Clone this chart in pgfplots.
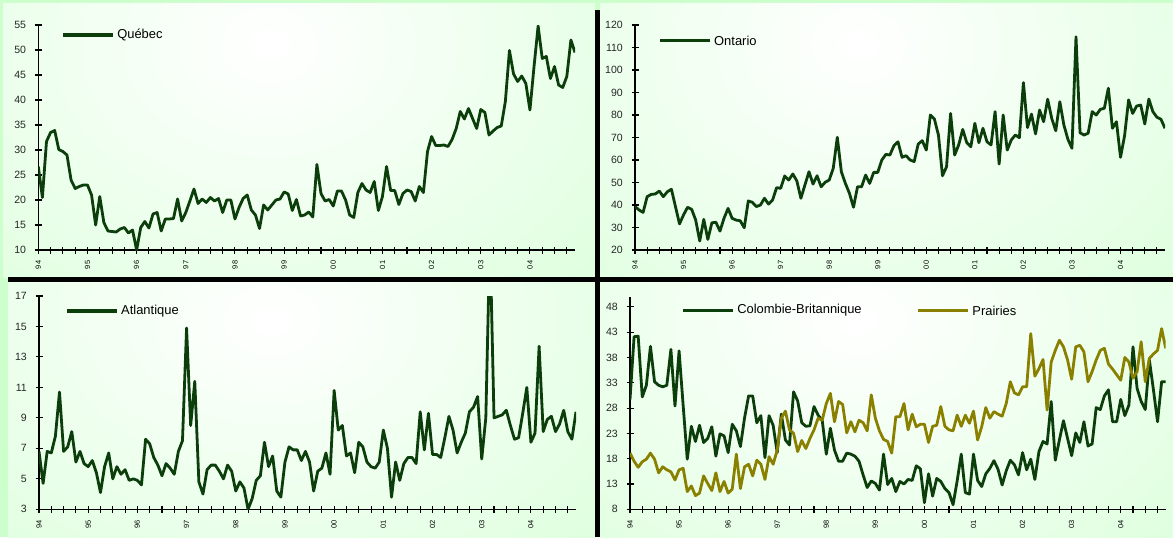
\documentclass[border=0pt]{standalone}
\usepackage{pgfplots}
\pgfplotsset{compat=1.18}
\usepackage{fontspec}
\setmainfont{Liberation Sans}
\newlength{\px}\setlength{\px}{0.75pt}
\definecolor{bggreen}{RGB}{204,255,204}
\definecolor{dgreen}{RGB}{12,62,12}
\definecolor{olive}{RGB}{138,128,0}

\pgfplotsset{
  panel/.style={
    scale only axis,
    axis lines=left,
    axis line style={-, black, line width=0.8pt},
    tick align=center,
    major tick length=7\px,
    minor tick length=7\px,
    tick style={black, line width=0.8pt},
    xmin=0, xmax=131,
    xtick={0,12,...,120},
    minor xtick={3,6,...,129},
    xticklabels={94,95,96,97,98,99,00,01,02,03,04},
    xticklabel style={yshift=-2.5\px, rotate=90, anchor=east, font=\fontsize{5.6}{6}\selectfont},
    yticklabel style={xshift=-4\px, font=\fontsize{7.9}{9}\selectfont, text=black!85},
    /pgf/number format/assume math mode=true,
    clip mode=individual,
  },
  series/.style={#1, line width=2.1pt, line join=round},
}
% legend key: a 50px bar, then the name
\newcommand{\key}[3]{%
  \fill[#1] (axis description cs:#2) ++(0pt,-1.25pt) rectangle ++(50\px,2.5pt);
  \node[anchor=west, inner sep=0pt, xshift=54\px, font=\fontsize{9.7}{11}\selectfont]
    at (axis description cs:#2) {#3};}

\begin{document}
\begin{tikzpicture}[x=0.75pt, y=0.75pt]
% background and panel shading
\fill[bggreen] (0,0) rectangle (1173,537);
\begin{scope}
  \clip (3,260) rectangle (595,533);
  \shade[inner color=white, outer color=bggreen] (269,492) ellipse (710 and 546);
\end{scope}
\begin{scope}
  \clip (600,260) rectangle (1173,533);
  \shade[inner color=white, outer color=bggreen] (858,492) ellipse (690 and 546);
\end{scope}
\begin{scope}
  \clip (8,0) rectangle (595,255);
  \shade[inner color=white, outer color=bggreen] (272,217) ellipse (705 and 510);
\end{scope}
\begin{scope}
  \clip (600,0) rectangle (1173,255);
  \shade[inner color=white, outer color=bggreen] (858,217) ellipse (690 and 510);
\end{scope}
\fill[black] (594.5,0) rectangle (600,527);
\fill[black] (8,255) rectangle (1173,260);

% Quebec
\begin{axis}[panel, at={(38.3\px,287\px)}, anchor=south west,
  width=536.7\px, height=225\px, ymin=10, ymax=55, ytick={10,15,...,55}]
\addplot[series=dgreen] coordinates {
(0,26.7) (1,20.5) (2,31.7) (3,33.5) (4,33.9) (5,30.1) (6,29.7) (7,29.0) (8,24.0) (9,22.3)
(10,22.7) (11,23.0) (12,23.0) (13,21.0) (14,15.0) (15,20.7) (16,15.5) (17,13.8) (18,13.7) (19,13.6)
(20,14.2) (21,14.5) (22,13.4) (23,14.0) (24,10.0) (25,14.5) (26,15.7) (27,14.4) (28,17.2) (29,17.5)
(30,13.8) (31,16.2) (32,16.2) (33,16.3) (34,20.2) (35,15.8) (36,17.5) (37,19.8) (38,22.2) (39,19.3)
(40,20.2) (41,19.5) (42,20.5) (43,19.8) (44,20.3) (45,17.5) (46,20.0) (47,20.0) (48,16.2) (49,18.5)
(50,20.3) (51,21.0) (52,18.0) (53,17.0) (54,14.3) (55,19.0) (56,18.0) (57,19.0) (58,20.0) (59,20.2)
(60,21.6) (61,21.2) (62,17.9) (63,20.1) (64,16.8) (65,17.0) (66,17.6) (67,16.6) (68,27.1) (69,21.3)
(70,19.8) (71,20.1) (72,18.8) (73,21.8) (74,21.8) (75,20.0) (76,17.0) (77,16.5) (78,21.5) (79,23.3)
(80,22.0) (81,21.5) (82,23.7) (83,17.9) (84,20.7) (85,26.7) (86,21.9) (87,21.9) (88,19.1) (89,21.3)
(90,22.0) (91,21.7) (92,19.8) (93,22.7) (94,21.5) (95,29.7) (96,32.7) (97,30.9) (98,30.9) (99,31.0)
(100,30.7) (101,32.1) (102,34.3) (103,37.7) (104,36.2) (105,38.3) (106,36.3) (107,34.3) (108,38.1) (109,37.5)
(110,33.0) (111,33.8) (112,34.5) (113,34.8) (114,39.7) (115,49.9) (116,45.2) (117,43.7) (118,44.8) (119,43.3)
(120,38.0) (121,46.7) (122,54.8) (123,48.3) (124,48.7) (125,44.3) (126,46.7) (127,43.0) (128,42.5) (129,44.7)
(130,52.0) (131,49.5)};
\key{dgreen}{0.046,0.956}{Québec}
\end{axis}

% Ontario
\begin{axis}[panel, at={(635\px,287\px)}, anchor=south west,
  width=530\px, height=225\px, ymin=20, ymax=120, ytick={20,30,...,120}]
\addplot[series=dgreen] coordinates {
(0,39.3) (1,37.8) (2,36.7) (3,43.7) (4,44.7) (5,44.9) (6,46.2) (7,43.7) (8,45.9) (9,47.0)
(10,39.3) (11,31.6) (12,35.6) (13,39.0) (14,38.1) (15,33.3) (16,24.0) (17,33.6) (18,24.7) (19,32.1)
(20,32.3) (21,28.4) (22,34.1) (23,38.5) (24,34.1) (25,33.3) (26,33.0) (27,29.9) (28,41.8) (29,41.2)
(30,39.3) (31,40.0) (32,43.0) (33,40.4) (34,42.2) (35,47.7) (36,47.4) (37,52.9) (38,51.1) (39,53.8)
(40,50.7) (41,43.0) (42,48.9) (43,54.8) (44,49.3) (45,53.0) (46,48.1) (47,50.1) (48,51.1) (49,56.3)
(50,70.1) (51,54.8) (52,49.6) (53,45.2) (54,39.0) (55,48.1) (56,48.1) (57,53.3) (58,49.6) (59,54.5)
(60,54.5) (61,60.0) (62,62.5) (63,62.2) (64,66.4) (65,68.1) (66,61.2) (67,61.9) (68,60.0) (69,59.3)
(70,67.1) (71,68.6) (72,64.4) (73,80.0) (74,78.2) (75,71.1) (76,53.0) (77,57.0) (78,80.7) (79,62.2)
(80,66.7) (81,73.6) (82,67.7) (83,65.9) (84,76.3) (85,67.7) (86,74.1) (87,68.1) (88,66.7) (89,81.5)
(90,58.2) (91,80.0) (92,64.4) (93,68.9) (94,71.1) (95,69.9) (96,94.4) (97,74.4) (98,80.4) (99,71.6)
(100,82.2) (101,77.0) (102,87.0) (103,78.5) (104,73.0) (105,85.9) (106,75.6) (107,69.2) (108,65.2) (109,114.8)
(110,72.1) (111,71.1) (112,71.9) (113,81.5) (114,80.0) (115,82.5) (116,83.0) (117,91.9) (118,74.1) (119,77.0)
(120,61.2) (121,70.7) (122,86.7) (123,80.7) (124,84.0) (125,84.4) (126,76.0) (127,87.1) (128,81.5) (129,79.0)
(130,78.1) (131,74.1)};
\key{dgreen}{0.047,0.930}{Ontario}
\end{axis}

% Atlantique
\begin{axis}[panel, at={(39\px,27.7\px)}, anchor=south west,
  width=537\px, height=213.3\px, ymin=3, ymax=17, ytick={3,5,...,17}]
\addplot[series=dgreen] coordinates {
(0,6.8) (1,4.7) (2,6.8) (3,6.7) (4,7.8) (5,10.7) (6,6.8) (7,7.1) (8,8.1) (9,6.1)
(10,6.8) (11,6.0) (12,5.8) (13,6.2) (14,5.4) (15,4.1) (16,5.8) (17,6.7) (18,5.0) (19,5.8)
(20,5.3) (21,5.6) (22,4.9) (23,5.0) (24,4.9) (25,4.6) (26,7.6) (27,7.3) (28,6.4) (29,5.9)
(30,5.2) (31,6.0) (32,5.7) (33,5.3) (34,6.8) (35,7.5) (36,14.9) (37,8.5) (38,11.4) (39,4.8)
(40,4.0) (41,5.6) (42,5.9) (43,5.9) (44,5.5) (45,5.0) (46,5.9) (47,5.5) (48,4.2) (49,4.8)
(50,4.4) (51,3.0) (52,3.7) (53,4.9) (54,5.2) (55,7.4) (56,5.8) (57,6.5) (58,4.2) (59,3.8)
(60,6.1) (61,7.1) (62,6.9) (63,6.9) (64,6.2) (65,6.8) (66,6.1) (67,4.2) (68,5.5) (69,5.7)
(70,6.7) (71,5.3) (72,10.8) (73,8.2) (74,8.5) (75,6.5) (76,6.7) (77,5.4) (78,7.4) (79,7.1)
(80,6.1) (81,5.8) (82,5.7) (83,6.1) (84,8.2) (85,7.0) (86,3.8) (87,6.1) (88,4.9) (89,6.0)
(90,6.4) (91,6.4) (92,6.0) (93,9.4) (94,6.9) (95,9.3) (96,6.6) (97,6.6) (98,6.4) (99,7.7)
(100,9.1) (101,8.2) (102,6.7) (103,7.4) (104,8.0) (105,9.4) (106,9.7) (107,10.4) (108,6.3) (109,9.0)
(110,21.0) (111,9.0) (112,9.1) (113,9.2) (114,9.5) (115,8.5) (116,7.6) (117,7.7) (118,9.3) (119,11.0)
(120,7.4) (121,8.0) (122,13.7) (123,8.1) (124,8.9) (125,9.1) (126,8.1) (127,8.6) (128,9.5) (129,8.1)
(130,7.6) (131,9.4)};
\key{dgreen}{0.052,0.930}{Atlantique}
\end{axis}

% Colombie-Britannique and Prairies
\begin{axis}[panel, at={(630\px,27.7\px)}, anchor=south west,
  width=535.7\px, height=212.6\px, ymin=8, ymax=50, ytick={8,13,...,48}]
\addplot[series=dgreen] coordinates {
(0,29.7) (1,42.1) (2,42.2) (3,30.2) (4,32.5) (5,40.2) (6,33.2) (7,32.5) (8,32.2) (9,32.5)
(10,39.6) (11,28.4) (12,39.3) (13,28.5) (14,17.9) (15,24.4) (16,21.4) (17,24.6) (18,21.2) (19,22.0)
(20,24.3) (21,18.5) (22,22.9) (23,22.5) (24,19.2) (25,24.8) (26,23.5) (27,20.4) (28,26.0) (29,30.4)
(30,30.4) (31,25.1) (32,26.5) (33,18.2) (34,26.5) (35,24.6) (36,19.2) (37,26.8) (38,21.7) (39,20.7)
(40,31.2) (41,29.4) (42,25.1) (43,24.4) (44,24.5) (45,28.3) (46,26.6) (47,25.6) (48,18.9) (49,24.0)
(50,19.7) (51,17.5) (52,17.5) (53,19.1) (54,18.9) (55,18.5) (56,17.5) (57,14.8) (58,12.3) (59,13.6)
(60,13.1) (61,11.8) (62,18.9) (63,12.9) (64,14.1) (65,11.5) (66,13.5) (67,13.0) (68,13.9) (69,13.7)
(70,16.6) (71,16.0) (72,9.3) (73,15.0) (74,10.6) (75,14.1) (76,13.5) (77,12.1) (78,11.3) (79,8.9)
(80,13.6) (81,18.9) (82,11.3) (83,11.0) (84,18.9) (85,13.7) (86,12.5) (87,15.0) (88,16.1) (89,17.6)
(90,15.9) (91,12.8) (92,15.6) (93,17.7) (94,16.8) (95,14.8) (96,19.2) (97,15.8) (98,17.9) (99,13.9)
(100,19.4) (101,21.4) (102,20.9) (103,29.3) (104,17.7) (105,21.7) (106,25.5) (107,22.0) (108,18.6) (109,23.1)
(110,21.2) (111,25.3) (112,20.5) (113,20.9) (114,28.1) (115,27.7) (116,30.4) (117,31.6) (118,25.3) (119,25.3)
(120,29.7) (121,26.5) (122,28.6) (123,40.1) (124,31.9) (125,29.3) (126,27.7) (127,37.5) (128,31.6) (129,25.3)
(130,33.2) (131,33.2)};
\addplot[series=olive] coordinates {
(0,19.1) (1,17.5) (2,16.3) (3,17.4) (4,17.9) (5,19.1) (6,17.9) (7,15.2) (8,16.4) (9,15.8)
(10,15.4) (11,13.8) (12,15.8) (13,16.1) (14,11.5) (15,12.6) (16,10.7) (17,11.2) (18,14.6) (19,13.1)
(20,11.7) (21,15.2) (22,11.5) (23,13.5) (24,11.2) (25,12.0) (26,18.9) (27,12.1) (28,16.4) (29,16.9)
(30,14.6) (31,17.7) (32,16.9) (33,13.9) (34,18.4) (35,16.9) (36,19.7) (37,26.0) (38,27.4) (39,23.7)
(40,23.0) (41,19.4) (42,21.6) (43,20.0) (44,22.0) (45,23.7) (46,26.0) (47,25.6) (48,28.9) (49,30.9)
(50,25.3) (51,29.3) (52,28.7) (53,23.1) (54,25.3) (55,23.3) (56,25.6) (57,25.1) (58,23.5) (59,30.6)
(60,26.0) (61,23.5) (62,21.8) (63,21.4) (64,19.1) (65,26.3) (66,26.3) (67,28.9) (68,23.7) (69,26.8)
(70,24.3) (71,24.8) (72,24.8) (73,21.2) (74,24.4) (75,24.6) (76,28.3) (77,24.4) (78,23.7) (79,23.5)
(80,26.6) (81,24.4) (82,26.6) (83,25.0) (84,27.4) (85,21.7) (86,24.3) (87,28.1) (88,26.0) (89,27.3)
(90,26.8) (91,26.4) (92,28.9) (93,33.2) (94,31.0) (95,30.6) (96,32.2) (97,32.2) (98,42.7) (99,34.3)
(100,35.8) (101,37.6) (102,27.6) (103,37.1) (104,39.4) (105,41.4) (106,40.1) (107,37.5) (108,33.7) (109,40.1)
(110,40.4) (111,39.1) (112,33.2) (113,35.2) (114,37.5) (115,39.4) (116,39.8) (117,36.7) (118,35.7) (119,34.6)
(120,33.5) (121,38.0) (122,37.1) (123,33.9) (124,35.2) (125,41.1) (126,33.2) (127,37.8) (128,38.7) (129,39.4)
(130,43.7) (131,39.8)};
\key{dgreen}{0.099,0.935}{Colombie-Britannique}
\key{olive}{0.538,0.935}{Prairies}
\end{axis}
\end{tikzpicture}
\end{document}
